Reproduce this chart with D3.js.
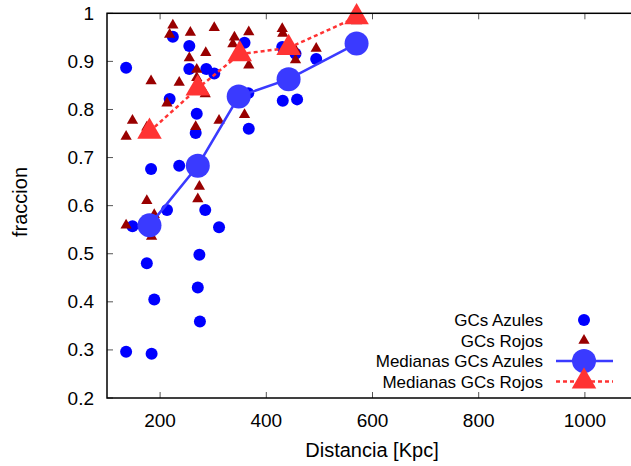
<!DOCTYPE html>
<html>
<head>
<meta charset="utf-8">
<script src="https://cdn.jsdelivr.net/npm/d3@7"></script>
<style>
  body { margin: 0; background: #fff; }
  svg { display: block; font-family: "Liberation Sans", Arial, sans-serif; }
</style>
</head>
<body>
<svg id="chart" width="631" height="466"></svg>
<script>
// Individual clusters, blue population (distance in Kpc, fraction)
const blueDist = [136, 224, 255, 255, 287, 302, 218, 269, 267, 367, 359, 183, 236, 213, 285,
  148, 311, 175, 274, 271, 189, 275, 136, 184, 430, 455, 494, 366, 431, 458, 342];
const blueFrac = [0.887, 0.951, 0.932, 0.884, 0.884, 0.875, 0.822, 0.791, 0.751, 0.760, 0.939,
  0.676, 0.683, 0.591, 0.591, 0.557, 0.555, 0.480, 0.498, 0.430, 0.405, 0.359, 0.296, 0.292,
  0.930, 0.916, 0.905, 0.834, 0.818, 0.821, 0.832];

// Red population
const redDist = [224, 218, 257, 302, 340, 337, 367, 367, 286, 255, 269, 269, 183, 236, 285,
  213, 148, 136, 175, 267, 311, 359, 274, 271, 175, 136, 184, 189, 430, 431, 455, 455, 494, 570];
const redFrac = [0.975, 0.956, 0.960, 0.970, 0.950, 0.936, 0.961, 0.892, 0.918, 0.907, 0.883,
  0.866, 0.859, 0.856, 0.832, 0.813, 0.777, 0.744, 0.763, 0.764, 0.777, 0.789, 0.640, 0.614,
  0.610, 0.559, 0.536, 0.581, 0.968, 0.958, 0.923, 0.903, 0.927, 0.984];

// Binned medians
const medDist = [180, 271, 348, 442, 570];
const medBlue = [0.559, 0.683, 0.827, 0.863, 0.937];
const medRedDist = [180, 271, 350, 442, 570];
const medRed = [0.754, 0.844, 0.915, 0.928, 0.992];

const xTicks = [200, 400, 600, 800, 1000];
const yTicks = [0.2, 0.3, 0.4, 0.5, 0.6, 0.7, 0.8, 0.9, 1];

const legendLabels = ['GCs Azules', 'GCs Rojos', 'Medianas GCs Azules', 'Medianas GCs Rojos'];

const C_BLUE = '#0000ff', C_RED = '#990000', C_MBLUE = '#3a3aff', C_MRED = '#ff3333';

const svg = d3.select('#chart');
const L = 107, R = 638, T = 13.3, B = 398;

const x = d3.scaleLinear().domain([100, 1100]).range([L, R]);
const y = d3.scaleLinear().domain([0.2, 1]).range([B, T]);

// ticks (inward, mirrored)
const tk = svg.append('g').attr('stroke', '#555').attr('stroke-width', 1);
xTicks.forEach(v => {
  tk.append('line').attr('x1', x(v)).attr('x2', x(v)).attr('y1', B).attr('y2', B - 6);
  tk.append('line').attr('x1', x(v)).attr('x2', x(v)).attr('y1', T).attr('y2', T + 6);
});
yTicks.forEach(v => {
  tk.append('line').attr('x1', L).attr('x2', L + 6).attr('y1', y(v)).attr('y2', y(v));
  tk.append('line').attr('x1', R).attr('x2', R - 6).attr('y1', y(v)).attr('y2', y(v));
});

// tick labels
svg.append('g').selectAll('text').data(xTicks).join('text')
  .attr('x', d => x(d)).attr('y', 427)
  .attr('text-anchor', 'middle').attr('font-size', 19).text(d => d);
svg.append('g').selectAll('text').data(yTicks).join('text')
  .attr('x', 94).attr('y', d => y(d) + 6.5)
  .attr('text-anchor', 'end').attr('font-size', 19).text(d => d);

// axis titles
svg.append('text').attr('x', 372).attr('y', 457).attr('text-anchor', 'middle')
  .attr('font-size', 20).text('Distancia [Kpc]');
svg.append('text').attr('transform', 'translate(27,202) rotate(-90)')
  .attr('text-anchor', 'middle').attr('font-size', 20).text('fraccion');

const tri = s => d3.symbol(d3.symbolTriangle, s)();

const plot = svg.append('g');

// blue points
plot.append('g').selectAll('circle').data(blueDist).join('circle')
  .attr('cx', d => x(d)).attr('cy', (d, i) => y(blueFrac[i])).attr('r', 6)
  .attr('fill', C_BLUE);

// red points
plot.append('g').selectAll('path').data(redDist).join('path')
  .attr('transform', (d, i) => `translate(${x(d)},${y(redFrac[i])})`)
  .attr('d', tri(55)).attr('fill', C_RED);

// blue medians
const line = d3.line();
plot.append('path')
  .attr('d', line(medDist.map((d, i) => [x(d), y(medBlue[i])])))
  .attr('fill', 'none').attr('stroke', C_MBLUE).attr('stroke-width', 2.5);
plot.append('g').selectAll('circle').data(medDist).join('circle')
  .attr('cx', d => x(d)).attr('cy', (d, i) => y(medBlue[i])).attr('r', 12)
  .attr('fill', C_MBLUE);

// red medians
plot.append('path')
  .attr('d', line(medRedDist.map((d, i) => [x(d), y(medRed[i])])))
  .attr('fill', 'none').attr('stroke', C_MRED).attr('stroke-width', 2.5)
  .attr('stroke-dasharray', '4,3');
plot.append('g').selectAll('path').data(medRedDist).join('path')
  .attr('transform', (d, i) => `translate(${x(d)},${y(medRed[i])})`)
  .attr('d', tri(260)).attr('fill', C_MRED);

// legend
const lg = svg.append('g');
const rowY = [320, 340.5, 361, 381.5];
legendLabels.forEach((t, i) => {
  lg.append('text').attr('x', 543).attr('y', rowY[i] + 6).attr('text-anchor', 'end')
    .attr('font-size', 17).text(t);
});
lg.append('circle').attr('cx', 584).attr('cy', rowY[0]).attr('r', 6).attr('fill', C_BLUE);
lg.append('path').attr('transform', `translate(584,${rowY[1]})`).attr('d', tri(55)).attr('fill', C_RED);
lg.append('line').attr('x1', 556).attr('x2', 613).attr('y1', rowY[2]).attr('y2', rowY[2])
  .attr('stroke', C_MBLUE).attr('stroke-width', 2.5);
lg.append('circle').attr('cx', 584).attr('cy', rowY[2]).attr('r', 12).attr('fill', C_MBLUE);
lg.append('line').attr('x1', 556).attr('x2', 613).attr('y1', rowY[3]).attr('y2', rowY[3])
  .attr('stroke', C_MRED).attr('stroke-width', 2.5).attr('stroke-dasharray', '4,3');
lg.append('path').attr('transform', `translate(584,${rowY[3]})`).attr('d', tri(260)).attr('fill', C_MRED);

// border
svg.append('rect').attr('x', L).attr('y', T).attr('width', R - L).attr('height', B - T)
  .attr('fill', 'none').attr('stroke', '#000').attr('stroke-width', 1.5);
</script>
</body>
</html>
